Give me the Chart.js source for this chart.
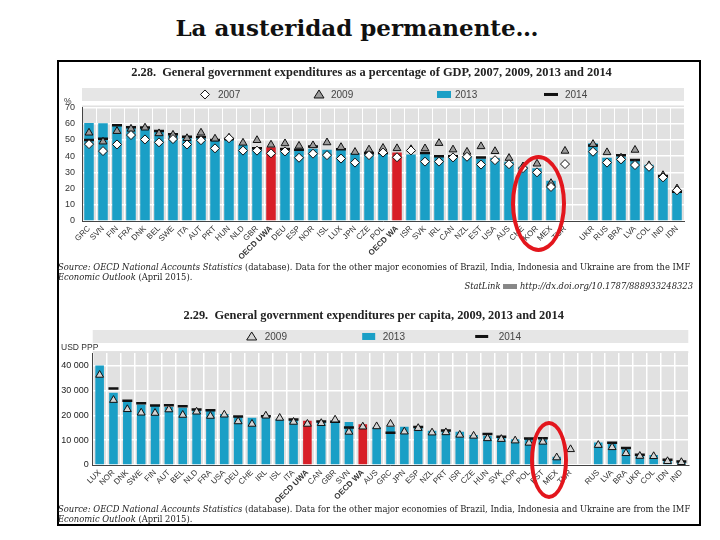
<!DOCTYPE html>
<html>
<head>
<meta charset="utf-8">
<script src="https://cdn.jsdelivr.net/npm/chart.js@4.4.1/dist/chart.umd.min.js"></script>
<style>
body { margin: 0; background: #fff; width: 720px; height: 540px; position: relative; overflow: hidden; font-family: "Liberation Sans", Arial, sans-serif; }
#slideTitle { position: absolute; left: 0; width: 714px; top: 14px; text-align: center; font: bold 23px "DejaVu Serif", serif; color: #111; white-space: nowrap; }
#frame { position: absolute; left: 57px; top: 60px; width: 644px; height: 466px; border: 2px solid #000; box-sizing: border-box; }
canvas { position: absolute; }
#c1 { left: 59px; top: 63px; }
#c2 { left: 59px; top: 300px; }
.note { position: absolute; font: 8.4px "DejaVu Serif", serif; color: #222; white-space: nowrap; }
.note i { font-style: italic; }
.unit { position: absolute; font: 8.5px "Liberation Sans", Arial, sans-serif; color: #333; white-space: nowrap; }
.ring { position: absolute; border: 4px solid #e3161d; border-radius: 50%; box-sizing: border-box; }
</style>
</head>
<body>
<div id="slideTitle">La austeridad permanente…</div>
<div id="frame"></div>

<canvas id="c1" width="640" height="200"></canvas>
<div class="unit" style="left:64px;top:96px;">%</div>
<div class="note" style="left:58px;top:262px;"><i>Source:</i> <i>OECD National Accounts Statistics</i> (database). Data for the other major economies of Brazil, India, Indonesia and Ukraine are from the IMF</div>
<div class="note" style="left:58px;top:272px;"><i>Economic Outlook</i> (April 2015).</div>
<div class="note" style="right:27px;top:281px;"><i>StatLink</i> <span style="display:inline-block;width:14px;height:5px;background:#888;vertical-align:middle"></span> <i>http://dx.doi.org/10.1787/888933248323</i></div>

<canvas id="c2" width="640" height="210"></canvas>
<div class="unit" style="left:61px;top:342px;">USD PPP</div>
<div class="note" style="left:58px;top:504px;"><i>Source:</i> <i>OECD National Accounts Statistics</i> (database). Data for the other major economies of Brazil, India, Indonesia and Ukraine are from the IMF</div>
<div class="note" style="left:58px;top:514px;"><i>Economic Outlook</i> (April 2015).</div>

<div class="ring" style="left:511px;top:155px;width:55px;height:97px;"></div>
<div class="ring" style="left:530px;top:421px;width:38px;height:78px;"></div>

<script>
// 2.28 gasto publico en % del PIB
var cats1 = ['GRC','SVN','FIN','FRA','DNK','BEL','SWE','ITA','AUT','PRT','HUN','NLD','GBR','OECD UWA','DEU','ESP','NOR','ISL','LUX','JPN','CZE','POL','OECD WA','ISR','SVK','IRL','CAN','NZL','EST','USA','AUS','CHE','KOR','MEX','TUR','','UKR','RUS','BRA','LVA','COL','IND','IDN'];
var y2013_1 = [60.5,60.2,58.8,57.5,57.3,55.3,53.2,51.5,51.2,49.8,50.2,46.8,45.6,45.4,44.6,44.6,44.5,44.0,44.0,42.0,42.3,42.4,42.2,41.0,41.3,39.5,40.2,40.0,38.5,38.8,36.5,33.4,32.5,24.8,null,null,48.0,39.0,39.8,37.3,34.7,27.3,18.2];
var y2014_1 = [50.0,50.7,59.0,57.8,57.6,55.5,53.5,52.0,51.8,50.0,50.5,null,44.9,null,44.4,44.0,46.0,null,44.3,null,42.0,42.0,null,null,42.0,40.0,40.0,null,39.2,null,null,null,null,null,null,null,46.5,null,40.6,37.6,null,27.8,18.0];
var y2009_1 = [54.4,48.9,55.4,56.8,57.5,54.0,53.1,51.0,54.4,50.7,51.3,48.2,49.8,47.0,47.8,46.3,46.6,48.4,45.5,42.5,44.0,45.0,44.8,44.2,44.7,48.0,44.0,42.6,46.0,43.0,38.8,33.6,35.3,23.3,43.2,null,47.4,42.3,39.0,43.8,34.3,28.2,20.0];
var y2007_1 = [47.4,43.1,47.2,53.0,50.3,48.5,50.5,47.2,49.8,44.8,51.0,43.4,43.4,41.7,42.9,39.0,41.5,40.6,38.5,36.0,40.6,42.2,39.3,43.5,36.6,36.6,39.2,39.6,34.8,37.5,35.0,32.6,30.0,21.0,35.1,null,42.7,36.0,38.0,34.5,33.4,26.9,18.9];
var series1 = ['2007','2009','2013','2014'];

// 2.29 gasto publico per capita, USD PPP
var cats2 = ['LUX','NOR','DNK','SWE','FIN','AUT','BEL','NLD','FRA','USA','DEU','CHE','IRL','ISL','ITA','OECD UWA','CAN','GBR','SVN','OECD WA','AUS','GRC','JPN','ESP','NZL','PRT','ISR','CZE','HUN','SVK','KOR','POL','EST','MEX','TUR','','RUS','LVA','BRA','UKR','COL','IDN','IND'];
var y2013_2 = [40000,29100,25700,24300,23700,23300,23000,22100,21800,20500,19600,19000,19000,18400,18100,17800,17700,17400,17300,16400,15200,15400,15400,15200,13800,13800,13400,12100,11800,11200,10400,10700,10400,3300,null,null,9000,8500,6300,4000,4000,2000,1300];
var y2014_2 = [null,30800,25800,24800,23900,24000,23600,22300,22000,null,19500,null,19600,null,18300,null,17500,17400,15100,null,null,13000,null,15300,null,13900,null,null,12500,11400,null,10700,10800,null,null,null,null,8900,6800,4100,null,2100,1400];
var y2009_2 = [36200,26100,22400,21000,20900,22300,20100,21400,19700,20200,17500,16500,19800,18900,17300,16500,16800,18200,13300,15400,15500,16500,13400,14800,13000,13100,12100,11700,10700,10400,9800,8900,9300,3000,6300,null,8000,7100,4700,3600,3500,1500,1100];
var series2 = ['2009','2013','2014'];

var BLUE = '#1a9fc6', RED = '#d81f27';

function barColors(cats) {
    return cats.map(function (c) { return c.indexOf('OECD') === 0 ? RED : BLUE; });
}

function tickFont(ctx) {
    var lab = ctx.tick ? String(ctx.tick.label) : '';
    return { family: '"Liberation Sans", Arial, sans-serif', size: 8, weight: lab.indexOf('OECD') === 0 ? 'bold' : 'normal' };
}

function spaced(v) {
    return String(v).replace(/\B(?=(\d{3})+(?!\d))/g, ' ');
}

function drawSymbol(c, kind, x, y, s) {
    c.save();
    c.lineWidth = 1;
    c.strokeStyle = '#111';
    if (kind === 'diamond') {
        c.fillStyle = '#fff';
        c.beginPath();
        c.moveTo(x, y - 4.5); c.lineTo(x + 4.5, y); c.lineTo(x, y + 4.5); c.lineTo(x - 4.5, y); c.closePath();
        c.fill(); c.stroke();
    } else if (kind === 'triangle') {
        c.fillStyle = s.tri;
        c.beginPath();
        c.moveTo(x, y - 4.5); c.lineTo(x + 5, y + 3.5); c.lineTo(x - 5, y + 3.5); c.closePath();
        c.fill(); c.stroke();
    } else if (kind === 'box') {
        c.fillStyle = BLUE;
        c.fillRect(x - s.boxW / 2, y - 3.5, s.boxW, 7);
    } else {
        c.fillStyle = '#111';
        c.fillRect(x - s.boxW / 2, y - 1.5, s.boxW, 3);
    }
    c.restore();
}

// grey plot background + legend band like the OECD layout
var bandPlugin = {
    id: 'band',
    beforeDraw: function (chart, args, o) {
        var a = chart.chartArea, c = chart.ctx;
        c.save();
        c.fillStyle = '#e1e1e1';
        c.fillRect(a.left, a.top - 2, a.right - a.left, a.bottom - a.top + 2);
        c.fillStyle = '#e6e6e6';
        c.fillRect(a.left, a.top - o.bandTop, a.right - a.left, o.bandTop - o.bandBottom);
        var cy = a.top - (o.bandTop + o.bandBottom) / 2;
        c.font = '10px "Liberation Sans", Arial, sans-serif';
        c.textBaseline = 'middle';
        o.labels.forEach(function (lab, i) {
            var x = a.left + o.xs[i];
            drawSymbol(c, o.kinds[i], x, cy, o);
            c.fillStyle = '#444';
            c.fillText(lab, x + o.gaps[i], cy + 0.5);
        });
        c.restore();
    }
};

function markers(label, data, style, radius, fill, order) {
    return {
        type: 'line', label: label, data: data, showLine: false, order: order,
        pointStyle: style, pointRadius: radius, pointBackgroundColor: fill,
        pointBorderColor: '#111', pointBorderWidth: style === 'line' ? 2.5 : 1
    };
}

//GRAFICO 2.28
var chart1 = new Chart(document.getElementById('c1').getContext('2d'), {
    type: 'bar',
    plugins: [bandPlugin],
    data: {
        labels: cats1,
        datasets: [
            { label: '2013', data: y2013_1, backgroundColor: barColors(cats1), barPercentage: 0.68, categoryPercentage: 1, order: 4 },
            markers('2014', y2014_1, 'line', 5, '#111', 3),
            markers('2009', y2009_1, 'triangle', 4.5, '#9c9c9c', 2),
            markers('2007', y2007_1, 'rectRot', 4.5, '#fff', 1)
        ]
    },
    options: {
        responsive: false,
        animation: false,
        events: [],
        layout: { padding: { right: 15 } },
        plugins: {
            legend: { display: false },
            tooltip: { enabled: false },
            title: {
                display: true,
                text: '2.28.  General government expenditures as a percentage of GDP, 2007, 2009, 2013 and 2014',
                font: { family: '"Liberation Serif", serif', size: 12.4, weight: 'bold' },
                color: '#222',
                padding: { top: 2.6, bottom: 27.0 }
            },
            band: { bandTop: 19.5, bandBottom: 6.5, labels: series1, kinds: ['diamond','triangle','box','dash'], xs: [123, 237, 362, 469], gaps: [13, 12, 11, 14], tri: '#9c9c9c', boxW: 14 }
        },
        scales: {
            x: {
                grid: { color: '#fff', lineWidth: 1, drawTicks: false, tickLength: 0 },
                border: { color: '#444', width: 1 },
                ticks: { autoSkip: false, minRotation: 45, maxRotation: 45, padding: 3, color: '#333', font: tickFont },
                afterFit: function (s) { s.height = 42; }
            },
            y: {
                min: 0, max: 70,
                grid: { color: '#fff', lineWidth: 1.5, drawTicks: false, tickLength: 0 },
                border: { color: '#444', width: 1 },
                ticks: { stepSize: 10, padding: 7, color: '#333', font: { size: 9 } },
                afterFit: function (s) { s.width = 23; }
            }
        }
    }
});

//GRAFICO 2.29
var chart2 = new Chart(document.getElementById('c2').getContext('2d'), {
    type: 'bar',
    plugins: [bandPlugin],
    data: {
        labels: cats2,
        datasets: [
            { label: '2013', data: y2013_2, backgroundColor: barColors(cats2), barPercentage: 0.62, categoryPercentage: 1, order: 3 },
            markers('2014', y2014_2, 'line', 5, '#111', 2),
            markers('2009', y2009_2, 'triangle', 4.5, '#d4d4d4', 1)
        ]
    },
    options: {
        responsive: false,
        animation: false,
        events: [],
        layout: { padding: { right: 10.7 } },
        plugins: {
            legend: { display: false },
            tooltip: { enabled: false },
            title: {
                display: true,
                text: '2.29.  General government expenditures per capita, 2009, 2013 and 2014',
                font: { family: '"Liberation Serif", serif', size: 12.4, weight: 'bold' },
                color: '#222',
                padding: { top: 8.6, bottom: 29.6 }
            },
            band: { bandTop: 23.1, bandBottom: 10.1, labels: series2, kinds: ['triangle','box','dash'], xs: [159, 276, 389], gaps: [13, 14, 17], tri: '#d4d4d4', boxW: 13 }
        },
        scales: {
            x: {
                grid: { color: '#fff', lineWidth: 1.5, drawTicks: false, tickLength: 0 },
                border: { color: '#444', width: 1 },
                ticks: { autoSkip: false, minRotation: 45, maxRotation: 45, padding: 3, color: '#333', font: tickFont },
                afterFit: function (s) { s.height = 45; }
            },
            y: {
                min: 0, max: 45000,
                grid: { color: '#fff', lineWidth: 1.5, drawTicks: false, tickLength: 0 },
                border: { color: '#444', width: 1 },
                ticks: { stepSize: 5000, padding: 4, color: '#222', font: { size: 9 }, callback: function (v) { return spaced(v); } },
                afterFit: function (s) { s.width = 33.7; }
            }
        }
    }
});
</script>
</body>
</html>
